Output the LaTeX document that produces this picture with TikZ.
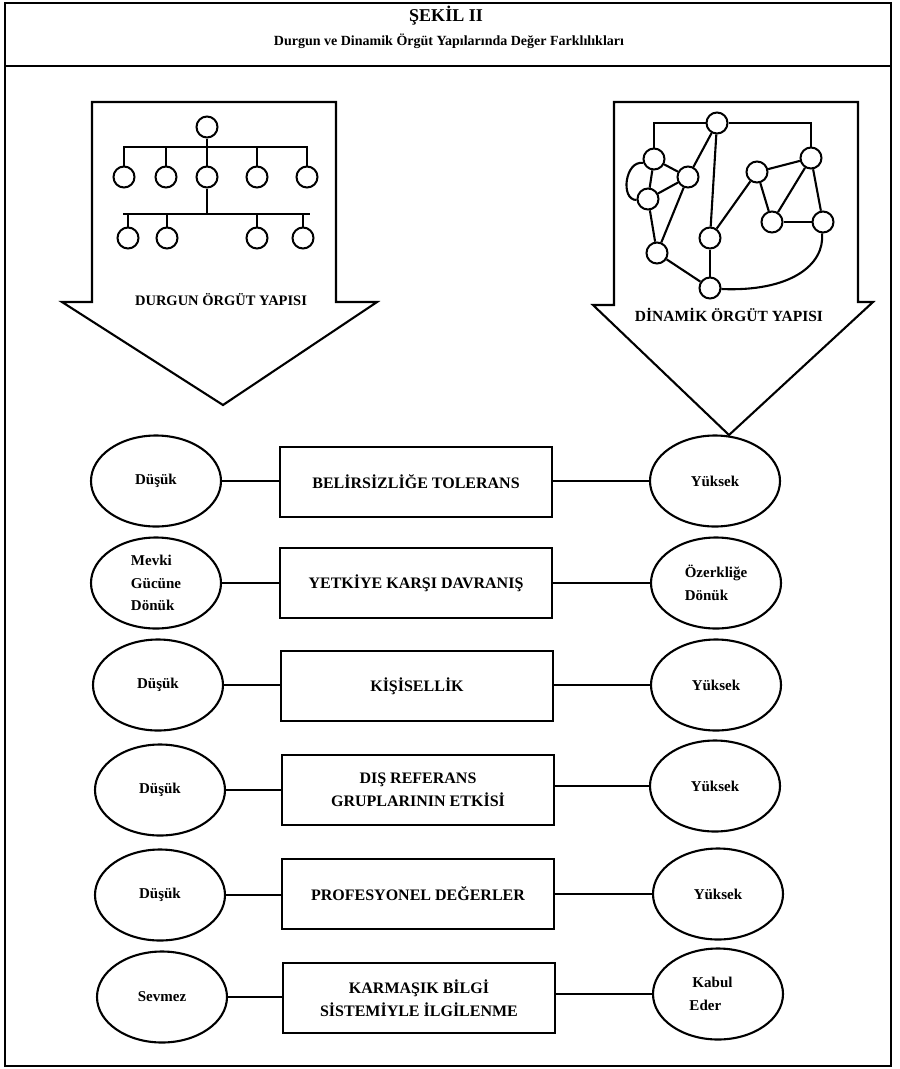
\documentclass[tikz,border=0pt]{standalone}
\usepackage{fontspec}
\setmainfont{Liberation Serif}
\usetikzlibrary{shapes.geometric}
\tikzset{
  ln/.style={line width=2.1pt, line join=miter},
  circ/.style={circle, draw, line width=2pt, minimum size=21pt, inner sep=0pt},
  oval/.style={ellipse, draw, line width=2.1pt, minimum width=130pt, minimum height=91pt, inner sep=0pt, align=left},
  ovtxt/.style={font=\fontsize{15}{22.5}\selectfont\bfseries},
  lbox/.style={rectangle, draw, line width=2.3pt, minimum width=272pt, minimum height=70pt, align=center, font=\fontsize{16}{23}\selectfont\bfseries},
  alabel/.style={font=\fontsize{15.5}{18}\selectfont\bfseries},
}
\begin{document}
\begin{tikzpicture}[x=1pt,y=-1pt]
\useasboundingbox (0,0) rectangle (900,1069);
% frame and title
\draw[line width=2.2pt] (5,3) rectangle (891,1066);
\draw[line width=2.2pt] (5,66) -- (891,66);
\node (title) at (446,16) {\fontsize{18}{21}\selectfont\bfseries ŞEKİL II};
\node (subtitle) at (449,41) {\fontsize{14}{17}\selectfont\bfseries Durgun ve Dinamik Örgüt Yapılarında Değer Farklılıkları};

% left big arrow
\draw[ln] (92,102) -- (336,102) -- (336,302) -- (377,302) -- (223,405) -- (62,302) -- (92,302) -- cycle;
\node[font=\fontsize{14.5}{17}\selectfont\bfseries] (durgun) at (221,300) {DURGUN ÖRGÜT YAPISI};

% right big arrow
\draw[ln] (614,102) -- (858,102) -- (858,302) -- (873,302) -- (729,435) -- (593,305) -- (614,305) -- cycle;
\node[alabel] (dinamik) at (729,315) {DİNAMİK ÖRGÜT YAPISI};

% hierarchy tree
\node[circ] (t0) at (207,127) {};
\node[circ] (t1) at (124,177) {};
\node[circ] (t2) at (166,177) {};
\node[circ] (t3) at (207,177) {};
\node[circ] (t4) at (257,177) {};
\node[circ] (t5) at (307,177) {};
\node[circ] (t6) at (128,238) {};
\node[circ] (t7) at (167,238) {};
\node[circ] (t8) at (257,238) {};
\node[circ] (t9) at (303,238) {};
\coordinate (b1L) at (123,147);
\coordinate (b1R) at (308,147);
\coordinate (b2L) at (123,214);
\coordinate (b2R) at (310,214);
\draw[ln] (b1L) -- (b1R);
\draw[ln] (b2L) -- (b2R);
\draw[ln] (t0.south) -- (t0 |- b1L);
\foreach \n in {t1,t2,t3,t4,t5} { \draw[ln] (\n.north) -- (\n |- b1L); }
\draw[ln] (t3.south) -- (t3 |- b2L);
\foreach \n in {t6,t7,t8,t9} { \draw[ln] (\n.north) -- (\n |- b2L); }

% network
\node[circ] (nA) at (717,123) {};
\node[circ] (nB) at (654,159) {};
\node[circ] (nC) at (688,177) {};
\node[circ] (nD) at (648,199) {};
\node[circ] (nE) at (657,253) {};
\node[circ] (nF) at (710,238) {};
\node[circ] (nG) at (710,288) {};
\node[circ] (nH) at (757,172) {};
\node[circ] (nI) at (811,158) {};
\node[circ] (nJ) at (772,222) {};
\node[circ] (nK) at (823,222) {};
\draw[ln] (nB.north) |- (nA.west);
\draw[ln] (nA.east) -| (nI.north);
\draw[ln] (nA) -- (nC);
\draw[ln] (nA) -- (nF);
\draw[ln] (nB) -- (nC);
\draw[ln] (nB) -- (nD);
\draw[ln] (nC) -- (nD);
\draw[ln] (nB.200) .. controls (625,160) and (620,200) .. (nD.185);
\draw[ln] (nD) -- (nE);
\draw[ln] (nC) -- (nE);
\draw[ln] (nE) -- (nG);
\draw[ln] (nF) -- (nG);
\draw[ln] (nF) -- (nH);
\draw[ln] (nH) -- (nI);
\draw[ln] (nH) -- (nJ);
\draw[ln] (nI) -- (nJ);
\draw[ln] (nJ) -- (nK);
\draw[ln] (nI) -- (nK);
\draw[ln] (nG.-5) .. controls (790,292) and (825,265) .. (nK.-95);

% rows
\node[oval, ovtxt] (l1) at (156,481) {Düşük};
\node[lbox] (m1) at (416,482) {BELİRSİZLİĞE TOLERANS};
\node[oval, ovtxt] (r1) at (715,481) {Yüksek};

\node[oval, ovtxt] (l2) at (156,583) {Mevki\\Gücüne\\Dönük};
\node[lbox] (m2) at (416,583) {YETKİYE KARŞI DAVRANIŞ};
\node[oval, ovtxt] (r2) at (716,583) {Özerkliğe\\Dönük};

\node[oval, ovtxt] (l3) at (158,685) {Düşük};
\node[lbox] (m3) at (417,686) {KİŞİSELLİK};
\node[oval, ovtxt] (r3) at (716,685) {Yüksek};

\node[oval, ovtxt] (l4) at (160,790) {Düşük};
\node[lbox] (m4) at (418,790) {DIŞ REFERANS\\GRUPLARININ ETKİSİ};
\node[oval, ovtxt] (r4) at (715,786) {Yüksek};

\node[oval, ovtxt] (l5) at (160,895) {Düşük};
\node[lbox] (m5) at (418,894) {PROFESYONEL DEĞERLER};
\node[oval, ovtxt] (r5) at (718,894) {Yüksek};

\node[oval, ovtxt] (l6) at (162,997) {Sevmez};
\node[lbox] (m6) at (419,998) {KARMAŞIK BİLGİ\\SİSTEMİYLE İLGİLENME};
\node[oval, ovtxt] (r6) at (718,994) {\hspace*{3pt}Kabul\hspace*{14pt}\\Eder};

\foreach \i in {1,...,6} {
  \draw[ln] (l\i.east) -- (m\i.west |- l\i.east);
  \draw[ln] (m\i.east |- r\i.west) -- (r\i.west);
}
\end{tikzpicture}
\end{document}
